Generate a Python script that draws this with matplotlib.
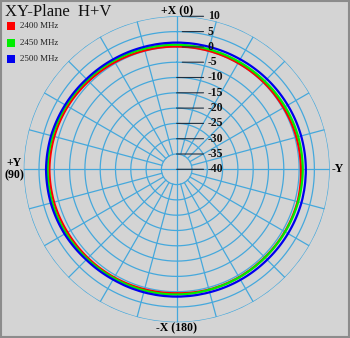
import numpy as np
import matplotlib
matplotlib.use("Agg")
import matplotlib.pyplot as plt
from matplotlib.patches import Rectangle, PathPatch
from matplotlib.path import Path

# ---------------- data (dB) ----------------
angles_deg = [0, 15, 30, 45, 60, 75, 90, 105, 120, 135, 150, 165,
              180, 195, 210, 225, 240, 255, 270, 285, 300, 315, 330, 345]
gain_2400 = [0.1, 0.2, 0.4, 0.7, 1.1, 1.4, 1.6, 1.5, 1.2, 1.0, 0.8, 0.6,
             0.5, 0.7, 0.7, 0.7, 0.8, 0.9, 0.6, 0.5, 0.3, 0.2, 0.1, 0.1]
gain_2450 = [0.7, 0.8, 1.0, 1.3, 1.7, 2.0, 2.2, 2.1, 1.8, 1.4, 1.1, 1.0,
             0.9, 0.8, 0.8, 0.8, 0.9, 1.1, 1.2, 1.1, 0.9, 0.7, 0.6, 0.6]
gain_2500 = [1.4, 1.4, 1.5, 1.7, 2.1, 2.5, 2.7, 2.6, 2.3, 1.8, 1.6, 1.6,
             1.6, 1.6, 1.7, 1.8, 2.0, 2.2, 2.2, 2.1, 1.9, 1.7, 1.5, 1.4]
series_names = ["2400 MHz", "2450 MHz", "2500 MHz"]
series_colors = ["#ff0000", "#00ee00", "#0000ee"]
ring_labels = [10, 5, 0, -5, -10, -15, -20, -25, -30, -35, -40]
r_min_db = -40
r_max_db = 10

# ---------------- style ----------------
BG = "#d4d4d4"
GRID = "#45a8dc"
SERIF = ["Liberation Serif", "DejaVu Serif"]

fig = plt.figure(figsize=(3.50, 3.38), dpi=100)
fig.patch.set_facecolor(BG)
fig.patches.append(Rectangle((0.003, 0.003), 0.994, 0.994, transform=fig.transFigure,
                             fill=False, edgecolor="#8c8c8c", linewidth=1.5))

cx, cy, R = 176.7, 169.3, 153.0
W, H = 350.0, 338.0
ax = fig.add_axes([(cx - R) / W, (H - cy - R) / H, 2 * R / W, 2 * R / H],
                  projection="polar")
ax.set_facecolor(BG)
ax.patch.set_alpha(0)
ax.set_theta_zero_location("N")
ax.set_theta_direction(1)
ax.set_ylim(0, r_max_db - r_min_db)
ax.grid(False)
ax.set_xticks([])
ax.set_yticks([])
ax.spines["polar"].set_visible(False)

# rings
tt = np.linspace(0, 2 * np.pi, 721)
for lab in ring_labels[:-1]:
    ax.plot(tt, np.full_like(tt, lab - r_min_db), color=GRID, lw=0.9, zorder=1)
# spokes
for a in range(0, 360, 15):
    th = np.deg2rad(a)
    r0 = 0 if a % 90 == 0 else 5
    ax.plot([th, th], [r0, r_max_db - r_min_db], color=GRID, lw=0.9, zorder=1)

# data curves (the polar transform interpolates the path smoothly)
th = np.deg2rad(np.array(angles_deg + [angles_deg[0] + 360]))
for vals, c in zip([gain_2400, gain_2450, gain_2500], series_colors):
    v = np.array(vals + [vals[0]]) - r_min_db
    path = Path(np.column_stack([th, v]), _interpolation_steps=24)
    ax.add_patch(PathPatch(path, fill=False, edgecolor=c, lw=1.6, zorder=3,
                           transform=ax.transData))

# ring labels with leader lines
for i, lab in enumerate(ring_labels):
    r = lab - r_min_db
    ax.annotate(str(lab), xy=(0, r), xytext=(31, 0), textcoords="offset pixels",
                ha="left", va="center", fontsize=8.5, family=SERIF,
                fontweight="bold", color="#111111",
                arrowprops=dict(arrowstyle="-", color="#203040", lw=0.8,
                                shrinkA=1, shrinkB=4 if i < 4 else 0),
                annotation_clip=False, zorder=5)

# axis direction labels
fig.text(cx / W, 1 - 11 / H, "+X (0)", ha="center", va="center",
         fontsize=8.5, family=SERIF, fontweight="bold")
fig.text(cx / W, 1 - 328 / H, "-X (180)", ha="center", va="center",
         fontsize=8.5, family=SERIF, fontweight="bold")
fig.text(14 / W, 1 - 169 / H, "+Y\n(90)", ha="center", va="center",
         fontsize=8.5, family=SERIF, fontweight="bold", linespacing=1.0)
fig.text(338 / W, 1 - 169 / H, "-Y", ha="center", va="center",
         fontsize=8.5, family=SERIF, fontweight="bold")

# title
fig.text(5 / W, 1 - 12 / H, "XY-Plane  H+V", ha="left", va="center",
         fontsize=12, family=SERIF, color="#111111")

# legend
for i, (nm, c) in enumerate(zip(series_names, series_colors)):
    y = 26 + i * 16.7
    fig.patches.append(Rectangle((7 / W, 1 - (y + 4) / H), 8 / W, 8 / H,
                                 transform=fig.transFigure, facecolor=c,
                                 edgecolor="none"))
    fig.text(20 / W, 1 - y / H, nm, ha="left", va="center", fontsize=6.5,
             family=SERIF, color="#222222")

fig.savefig("out.png", dpi=100, facecolor=BG)
